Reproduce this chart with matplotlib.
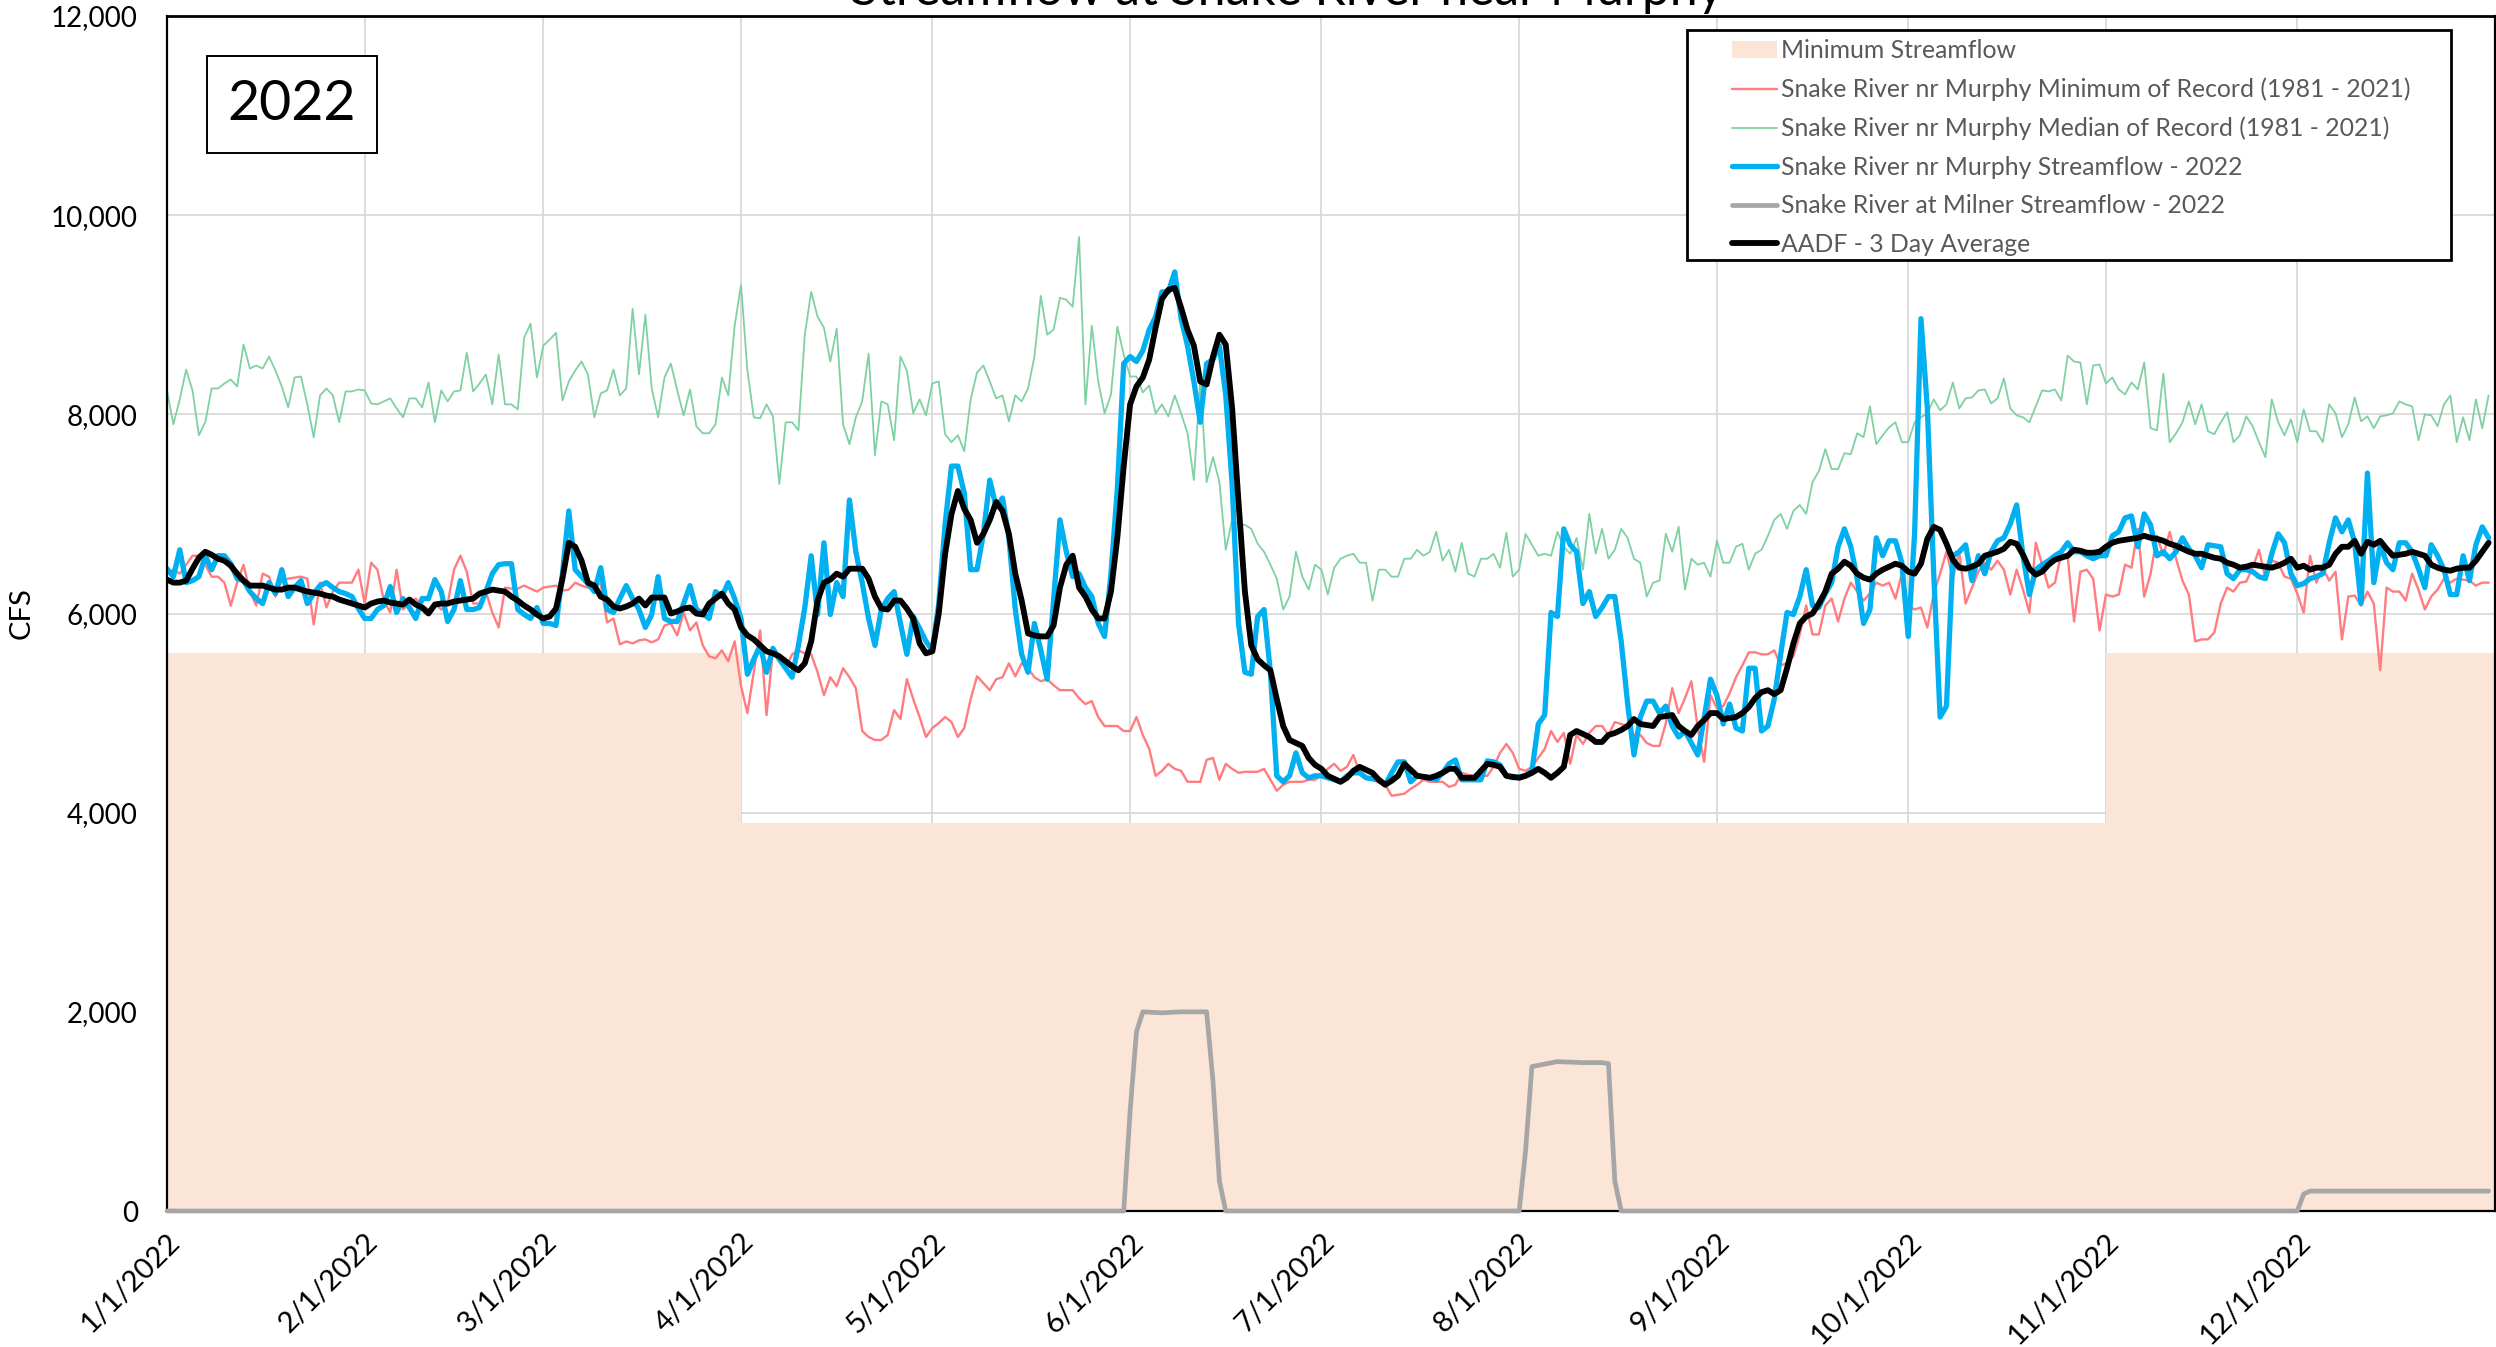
import matplotlib
matplotlib.use("Agg")
import matplotlib.pyplot as plt
from matplotlib.patches import Rectangle, Patch
import pandas as pd

plt.rcParams['font.family'] = ['Lato', 'DejaVu Sans']

# ---------------- data (daily, 1/1/2022 .. 12/31/2022) ----------------
median_record = [
    8240, 7900, 8150, 8450, 8240, 7790, 7920, 8260, 8260, 8310, 8350, 8280, 8700, 8460, 8490, 8460, 8580, 8440, 8280, 8070, 8370, 8380, 8100, 7770, 8190, 8260, 8190, 7920, 8230, 8230, 8250,
    8240, 8110, 8100, 8130, 8160, 8060, 7970, 8160, 8160, 8070, 8320, 7920, 8240, 8130, 8230, 8240, 8620, 8230, 8310, 8400, 8100, 8600, 8100, 8100, 8050, 8770, 8910, 8370,
    8690, 8750, 8820, 8140, 8330, 8440, 8530, 8400, 7970, 8210, 8240, 8450, 8190, 8260, 9060, 8400, 9000, 8260, 7970, 8370, 8510, 8240, 7990, 8250, 7880, 7810, 7810, 7900, 8370, 8190, 8890,
    9300, 8440, 7970, 7960, 8100, 7980, 7300, 7920, 7920, 7840, 8800, 9230, 8980, 8870, 8530, 8860, 7900, 7700, 7970, 8130, 8610, 7590, 8130, 8100, 7740, 8580, 8440, 8010, 8150, 7990,
    8310, 8330, 7800, 7720, 7790, 7630, 8150, 8420, 8490, 8330, 8160, 8190, 7930, 8190, 8130, 8260, 8580, 9190, 8800, 8850, 9170, 9150, 9080, 9780, 8100, 8890, 8330, 8010, 8200, 8880, 8600,
    8380, 8380, 8220, 8290, 8010, 8100, 7980, 8190, 8010, 7810, 7340, 8350, 7320, 7570, 7320, 6640, 6940, 6900, 6890, 6850, 6700, 6620, 6490, 6350, 6040, 6170, 6620, 6370, 6240, 6490,
    6440, 6190, 6460, 6550, 6580, 6600, 6510, 6510, 6130, 6440, 6440, 6370, 6370, 6550, 6550, 6640, 6580, 6620, 6820, 6530, 6640, 6420, 6710, 6400, 6370, 6550, 6550, 6600, 6460, 6810, 6370,
    6440, 6800, 6690, 6580, 6600, 6580, 6820, 6670, 6600, 6760, 6440, 7000, 6600, 6850, 6550, 6640, 6850, 6760, 6550, 6510, 6170, 6310, 6330, 6800, 6620, 6870, 6240, 6550, 6490, 6510, 6370,
    6730, 6510, 6510, 6670, 6700, 6440, 6600, 6640, 6780, 6940, 7000, 6850, 7030, 7090, 7000, 7320, 7430, 7650, 7450, 7450, 7610, 7600, 7810, 7770, 8080, 7700, 7790, 7870, 7920, 7720,
    7720, 7920, 7970, 8010, 8150, 8040, 8100, 8320, 8060, 8160, 8170, 8240, 8250, 8110, 8160, 8360, 8060, 7990, 7970, 7920, 8080, 8240, 8230, 8250, 8140, 8590, 8530, 8520, 8100, 8490, 8500,
    8310, 8370, 8250, 8200, 8320, 8250, 8520, 7860, 7840, 8410, 7720, 7810, 7920, 8130, 7900, 8100, 7830, 7800, 7920, 8020, 7720, 7790, 7980, 7880, 7720, 7570, 8150, 7920, 7790, 7950,
    7720, 8050, 7830, 7830, 7720, 8100, 8010, 7770, 7900, 8170, 7930, 7980, 7860, 7980, 7990, 8010, 8130, 8100, 8080, 7740, 8000, 7990, 7880, 8100, 8190, 7720, 7970, 7740, 8150, 7860, 8190,
]

minimum_record = [
    6400, 6440, 6400, 6490, 6580, 6580, 6490, 6370, 6370, 6310, 6080, 6310, 6490, 6220, 6080, 6400, 6370, 6170, 6330, 6350, 6360, 6370, 6350, 5890, 6310, 6060, 6220, 6310, 6310, 6310, 6440,
    6100, 6510, 6440, 6130, 6010, 6440, 6040, 6100, 6150, 6080, 6040, 6100, 6040, 6100, 6440, 6580, 6420, 6100, 6100, 6220, 6010, 5860, 6260, 6250, 6250, 6280, 6250, 6220,
    6260, 6270, 6280, 6230, 6240, 6310, 6280, 6260, 6280, 6300, 5910, 5950, 5690, 5720, 5700, 5730, 5740, 5710, 5740, 5880, 5900, 5780, 6010, 5830, 5910, 5680, 5570, 5550, 5630, 5520, 5720,
    5270, 5000, 5410, 5830, 4980, 5630, 5540, 5450, 5590, 5630, 5600, 5590, 5410, 5180, 5360, 5270, 5450, 5360, 5250, 4820, 4760, 4730, 4730, 4780, 5030, 4940, 5340, 5140, 4960, 4760,
    4850, 4900, 4960, 4910, 4760, 4850, 5140, 5370, 5300, 5230, 5340, 5360, 5500, 5370, 5500, 5450, 5360, 5320, 5340, 5280, 5230, 5230, 5230, 5150, 5090, 5120, 4960, 4870, 4870, 4870, 4820,
    4820, 4960, 4780, 4640, 4370, 4420, 4490, 4440, 4420, 4310, 4310, 4310, 4530, 4550, 4330, 4490, 4440, 4400, 4410, 4410, 4410, 4440, 4330, 4220, 4280, 4310, 4310, 4310, 4330, 4330,
    4380, 4440, 4490, 4420, 4460, 4580, 4400, 4350, 4330, 4300, 4280, 4170, 4180, 4190, 4240, 4280, 4330, 4310, 4310, 4310, 4260, 4280, 4400, 4380, 4370, 4370, 4370, 4460, 4600, 4690, 4600,
    4440, 4420, 4460, 4550, 4640, 4820, 4710, 4800, 4490, 4780, 4690, 4800, 4870, 4870, 4780, 4910, 4890, 4870, 4780, 4780, 4700, 4670, 4670, 4900, 5250, 5000, 5150, 5320, 4850, 4510, 5180,
    5050, 5070, 5200, 5360, 5480, 5610, 5610, 5590, 5590, 5630, 5480, 5500, 5570, 5790, 6080, 5790, 5790, 6080, 6150, 5920, 6150, 6310, 6220, 6130, 6200, 6310, 6280, 6310, 6150, 6400,
    6080, 6040, 6060, 5860, 6200, 6400, 6620, 6350, 6620, 6100, 6260, 6420, 6510, 6440, 6530, 6440, 6190, 6440, 6240, 6010, 6710, 6490, 6260, 6310, 6600, 6580, 5920, 6420, 6440, 6350, 5830,
    6190, 6170, 6190, 6490, 6460, 6850, 6170, 6400, 6780, 6580, 6820, 6550, 6330, 6190, 5720, 5740, 5740, 5810, 6100, 6260, 6220, 6310, 6320, 6460, 6640, 6350, 6530, 6510, 6370, 6350,
    6200, 6010, 6580, 6310, 6460, 6330, 6420, 5740, 6170, 6180, 6080, 6220, 6100, 5430, 6260, 6220, 6220, 6130, 6400, 6240, 6040, 6170, 6240, 6350, 6310, 6350, 6340, 6330, 6280, 6310, 6310,
]

murphy_2022 = [
    6450, 6370, 6640, 6310, 6330, 6370, 6580, 6440, 6580, 6580, 6500, 6350, 6330, 6220, 6150, 6100, 6310, 6200, 6440, 6170, 6260, 6330, 6100, 6200, 6280, 6310, 6260, 6220, 6200, 6170, 6050,
    5950, 5950, 6040, 6080, 6270, 6010, 6150, 6060, 5950, 6150, 6150, 6340, 6220, 5920, 6040, 6330, 6040, 6040, 6060, 6220, 6400, 6490, 6500, 6500, 6040, 5990, 5950, 6060,
    5900, 5900, 5880, 6400, 7030, 6440, 6370, 6300, 6220, 6460, 6040, 6010, 6150, 6280, 6150, 6040, 5860, 5990, 6370, 5950, 5920, 5920, 6100, 6280, 6040, 6000, 5950, 6220, 6170, 6310, 6150,
    5950, 5390, 5540, 5680, 5410, 5650, 5540, 5450, 5360, 5680, 6060, 6580, 5990, 6710, 5990, 6310, 6170, 7140, 6620, 6310, 5950, 5680, 6040, 6150, 6220, 5900, 5590, 5970, 5850, 5720,
    5630, 6100, 6900, 7480, 7480, 7210, 6440, 6440, 6800, 7340, 7070, 7160, 6760, 6040, 5590, 5410, 5900, 5630, 5340, 6130, 6940, 6620, 6370, 6400, 6260, 6170, 5900, 5770, 6400, 7250, 8510,
    8580, 8530, 8640, 8850, 8980, 9230, 9230, 9430, 8960, 8690, 8330, 7920, 8510, 8550, 8690, 8190, 7300, 5900, 5410, 5390, 5970, 6040, 5410, 4370, 4310, 4370, 4600, 4400, 4350, 4370,
    4370, 4350, 4330, 4310, 4370, 4400, 4400, 4350, 4340, 4330, 4280, 4400, 4510, 4510, 4310, 4370, 4360, 4350, 4330, 4400, 4490, 4530, 4330, 4330, 4330, 4330, 4520, 4510, 4480, 4370, 4350,
    4360, 4370, 4420, 4890, 4980, 6010, 5970, 6850, 6690, 6620, 6100, 6220, 5970, 6060, 6170, 6170, 5720, 5100, 4580, 4960, 5120, 5120, 5000, 5070, 4870, 4760, 4820, 4700, 4580, 4950, 5340,
    5180, 4890, 5090, 4850, 4820, 5450, 5450, 4820, 4870, 5140, 5590, 6010, 5990, 6170, 6440, 6080, 6060, 6200, 6310, 6670, 6850, 6670, 6350, 5900, 6040, 6760, 6580, 6730, 6730, 6510,
    5770, 6800, 8960, 8060, 6400, 4960, 5070, 6580, 6620, 6690, 6330, 6580, 6400, 6620, 6730, 6760, 6900, 7090, 6580, 6190, 6440, 6490, 6530, 6580, 6620, 6710, 6620, 6620, 6580, 6550, 6580,
    6580, 6780, 6820, 6960, 6980, 6670, 7000, 6890, 6580, 6620, 6550, 6620, 6760, 6650, 6580, 6460, 6690, 6680, 6670, 6400, 6350, 6440, 6440, 6420, 6370, 6350, 6600, 6800, 6710, 6400,
    6280, 6300, 6350, 6370, 6400, 6710, 6960, 6820, 6940, 6710, 6100, 7410, 6310, 6690, 6510, 6440, 6710, 6710, 6620, 6450, 6260, 6690, 6580, 6440, 6190, 6190, 6580, 6330, 6690, 6870, 6760,
]

aadf_3day = [
    6340, 6310, 6310, 6330, 6450, 6560, 6620, 6590, 6550, 6530, 6480, 6400, 6330, 6280, 6280, 6280, 6260, 6240, 6240, 6260, 6260, 6240, 6220, 6210, 6200, 6180, 6170, 6140, 6120, 6100, 6080,
    6060, 6100, 6120, 6130, 6110, 6100, 6090, 6140, 6090, 6060, 6000, 6090, 6100, 6100, 6120, 6130, 6140, 6150, 6200, 6220, 6240, 6230, 6220, 6170, 6130, 6080, 6040, 5990,
    5950, 5970, 6050, 6350, 6710, 6670, 6530, 6310, 6280, 6170, 6140, 6070, 6050, 6070, 6100, 6150, 6080, 6160, 6160, 6160, 6000, 6020, 6050, 6060, 6000, 5990, 6100, 6150, 6200, 6100, 6040,
    5860, 5780, 5740, 5680, 5620, 5600, 5570, 5520, 5470, 5430, 5500, 5720, 6130, 6310, 6340, 6400, 6370, 6450, 6450, 6450, 6350, 6170, 6050, 6040, 6130, 6130, 6050, 5950, 5700, 5600,
    5620, 6000, 6600, 7000, 7230, 7050, 6940, 6710, 6800, 6940, 7120, 7030, 6800, 6400, 6130, 5800, 5780, 5770, 5770, 5880, 6260, 6490, 6580, 6260, 6170, 6040, 5950, 5950, 6220, 6760, 7480,
    8100, 8280, 8370, 8550, 8870, 9160, 9250, 9270, 9070, 8850, 8690, 8330, 8300, 8580, 8800, 8700, 8060, 7120, 6220, 5680, 5540, 5480, 5430, 5140, 4870, 4730, 4700, 4670, 4550, 4480,
    4440, 4370, 4340, 4310, 4350, 4420, 4460, 4430, 4400, 4330, 4280, 4320, 4370, 4490, 4430, 4370, 4360, 4350, 4370, 4400, 4440, 4440, 4350, 4350, 4350, 4420, 4490, 4480, 4460, 4370, 4360,
    4350, 4370, 4400, 4440, 4400, 4350, 4400, 4460, 4780, 4820, 4790, 4760, 4710, 4710, 4780, 4800, 4830, 4870, 4940, 4890, 4880, 4870, 4960, 4970, 4980, 4870, 4820, 4780, 4870, 4930, 5000,
    5000, 4940, 4950, 4960, 5000, 5060, 5150, 5210, 5230, 5190, 5230, 5450, 5700, 5900, 5970, 6000, 6100, 6220, 6400, 6450, 6520, 6480, 6400, 6360, 6340, 6400, 6440, 6470, 6500, 6480,
    6420, 6400, 6500, 6750, 6870, 6840, 6700, 6540, 6460, 6450, 6470, 6500, 6580, 6600, 6620, 6650, 6720, 6700, 6590, 6450, 6390, 6420, 6490, 6540, 6560, 6580, 6640, 6630, 6610, 6610, 6620,
    6670, 6710, 6730, 6740, 6750, 6760, 6780, 6760, 6750, 6730, 6700, 6680, 6650, 6620, 6600, 6600, 6580, 6560, 6550, 6510, 6490, 6460, 6470, 6490, 6480, 6470, 6460, 6480, 6510, 6550,
    6460, 6480, 6440, 6460, 6460, 6490, 6600, 6670, 6670, 6730, 6600, 6720, 6690, 6730, 6650, 6580, 6590, 6600, 6620, 6600, 6580, 6490, 6460, 6440, 6430, 6450, 6460, 6460, 6530, 6620, 6710,
]

milner_dates = ["2022-01-01", "2022-05-31", "2022-06-01", "2022-06-02", "2022-06-03",
                "2022-06-06", "2022-06-09", "2022-06-13", "2022-06-14", "2022-06-15", "2022-06-16",
                "2022-08-01", "2022-08-02", "2022-08-03", "2022-08-07", "2022-08-11", "2022-08-14",
                "2022-08-15", "2022-08-16", "2022-08-17", "2022-12-01", "2022-12-02", "2022-12-03",
                "2022-12-31"]
milner_values = [0, 0, 1000, 1800, 2000,
                 1990, 2000, 2000, 1300, 300, 0,
                 0, 600, 1450, 1500, 1490, 1490,
                 1480, 300, 0, 0, 170, 200,
                 200]

minflow_dates = ["2022-01-01", "2022-04-01", "2022-11-01", "2023-01-01"]
minflow_values = [5600, 3900, 5600, 5600]

month_ticks = ["2022-01-01", "2022-02-01", "2022-03-01", "2022-04-01", "2022-05-01", "2022-06-01",
               "2022-07-01", "2022-08-01", "2022-09-01", "2022-10-01", "2022-11-01", "2022-12-01"]
month_labels = ["1/1/2022", "2/1/2022", "3/1/2022", "4/1/2022", "5/1/2022", "6/1/2022",
                "7/1/2022", "8/1/2022", "9/1/2022", "10/1/2022", "11/1/2022", "12/1/2022"]
y_ticks = [0, 2000, 4000, 6000, 8000, 10000, 12000]
y_labels = ["0", "2,000", "4,000", "6,000", "8,000", "10,000", "12,000"]

legend_labels = ["Minimum Streamflow",
                 "Snake River nr Murphy Minimum of Record (1981 - 2021)",
                 "Snake River nr Murphy Median of Record (1981 - 2021)",
                 "Snake River nr Murphy Streamflow - 2022",
                 "Snake River at Milner Streamflow - 2022",
                 "AADF - 3 Day Average"]

# ---------------- figure ----------------
W, H = 2496, 1347
fig = plt.figure(figsize=(W / 100, H / 100), dpi=100)
ax_left, ax_right, ax_top, ax_bottom = 167, 2495, 16, 1211
ax = fig.add_axes([ax_left / W, 1 - ax_bottom / H, (ax_right - ax_left) / W, (ax_bottom - ax_top) / H])

def dates_for(values):
    return pd.date_range("2022-01-01", periods=len(values), freq="D")

C_FILL = "#FBE5D6"
C_RED = "#FF7C80"
C_GREEN = "#7FD1A1"
C_BLUE = "#00B0F0"
C_GRAY = "#A6A6A6"

fill = ax.fill_between(pd.to_datetime(minflow_dates), minflow_values, 0, step="post",
                       color=C_FILL, lw=0, zorder=1)
kw = dict(solid_joinstyle="round", solid_capstyle="round")
l_red, = ax.plot(dates_for(minimum_record), minimum_record, color=C_RED, lw=1.7, zorder=3, **kw)
l_green, = ax.plot(dates_for(median_record), median_record, color=C_GREEN, lw=1.3, zorder=3, **kw)
l_blue, = ax.plot(dates_for(murphy_2022), murphy_2022, color=C_BLUE, lw=3.8, zorder=4, **kw)
l_gray, = ax.plot(pd.to_datetime(milner_dates), milner_values, color=C_GRAY, lw=3.4, zorder=7,
                  clip_on=False, **kw)
l_black, = ax.plot(dates_for(aadf_3day), aadf_3day, color="black", lw=4.2, zorder=5, **kw)

ax.set_xlim(pd.Timestamp("2022-01-01"), pd.Timestamp("2023-01-01"))
ax.set_ylim(0, 12000)
ax.set_xticks(pd.to_datetime(month_ticks))
ax.set_xticklabels(month_labels, rotation=45, ha="right", va="top", rotation_mode="anchor",
                   fontsize=21)
ax.set_yticks(y_ticks)
ax.set_yticklabels(y_labels, fontsize=20)
ax.tick_params(axis="x", direction="in", length=5, width=1.2, pad=13, color="black")
ax.tick_params(axis="y", length=0, pad=21)
ax.set_axisbelow(True)
ax.grid(True, color="#D9D9D9", lw=1.3)
for side, sp in ax.spines.items():
    sp.set_color("black")
    sp.set_linewidth(1.6)
    sp.set_zorder(6)
ax.spines["top"].set_linewidth(2.0)

# title (mostly above the canvas, as in the original)
fig.text(1287 / W, 1 - 5 / H, "Streamflow at Snake River near Murphy", ha="center",
         va="baseline", fontsize=35.8)
fig.text(22 / W, 1 - 613 / H, "CFS", rotation=90, ha="center", va="center", fontsize=21)

# year box
fig.patches.append(Rectangle((207 / W, 1 - 153 / H), 170 / W, 97 / H, transform=fig.transFigure,
                             facecolor="white", edgecolor="black", lw=1.4, zorder=7))
fig.text(292 / W, 1 - 104 / H, "2022", ha="center", va="center", fontsize=40, zorder=8)

# legend frame + legend
ax.add_patch(Rectangle((1687 / W, 1 - 260 / H), 764 / W, 230 / H, transform=fig.transFigure,
                       facecolor="white", edgecolor="black", lw=2.0, zorder=8, clip_on=False))
handles = [Patch(facecolor=C_FILL, edgecolor="none"), l_red, l_green, l_blue, l_gray, l_black]
leg = ax.legend(handles, legend_labels, loc="upper left",
                bbox_to_anchor=(1732 / W, 1 - 39 / H), bbox_transform=fig.transFigure,
                frameon=False, fontsize=17.8, labelcolor="#595959", borderpad=0,
                borderaxespad=0, handlelength=1.82, handletextpad=0.16, labelspacing=0.63)
leg.set_zorder(9)

fig.savefig("out.png", dpi=100)
